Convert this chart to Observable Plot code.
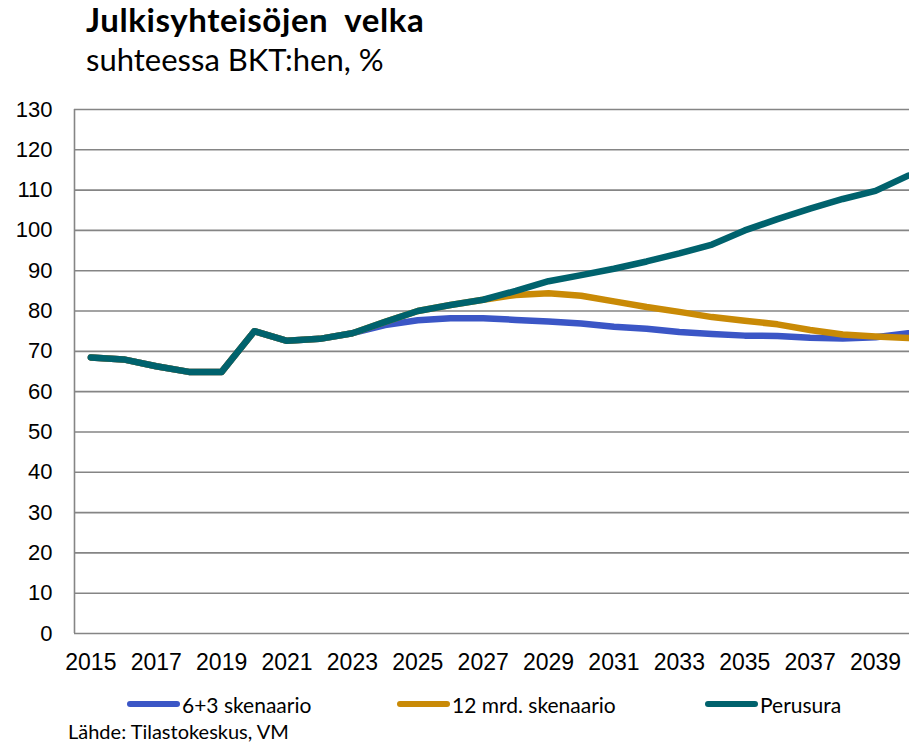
<!DOCTYPE html>
<html>
<head>
<meta charset="utf-8">
<script src="https://cdn.jsdelivr.net/npm/d3@7"></script>
<script src="https://cdn.jsdelivr.net/npm/@observablehq/plot@0.6"></script>
<style>
  html, body { margin: 0; padding: 0; background: #fff; }
  #wrap { position: relative; width: 909px; height: 742px; overflow: hidden; background: #fff; }
  .title { position: absolute; left: 86px; top: 1px; line-height: 36px; font-family: Lato, sans-serif; font-weight: 700; font-size: 33px; color: #000; word-spacing: 8px; letter-spacing: 0.6px; white-space: nowrap; }
  .subtitle { position: absolute; left: 86px; top: 41px; line-height: 36px; font-family: Lato, sans-serif; font-weight: 400; font-size: 31px; color: #000; white-space: nowrap; }
  #chart { position: absolute; left: 0; top: 90px; }
  .leg { position: absolute; top: 691px; height: 26px; display: flex; align-items: center; font-family: Lato, sans-serif; font-size: 21px; color: #000; white-space: nowrap; }
  .sw { display: inline-block; width: 53px; height: 6px; border-radius: 3px; margin-right: 2px; }
  .source { position: absolute; left: 68px; top: 719px; font-family: Lato, sans-serif; font-size: 20px; color: #000; white-space: nowrap; }
</style>
</head>
<body>
<div id="wrap">
  <div class="title">Julkisyhteisöjen velka</div>
  <div class="subtitle">suhteessa BKT:hen, %</div>
  <div id="chart"></div>
  <div id="legend"></div>
  <div class="source">Lähde: Tilastokeskus, VM</div>
</div>
<script>
const years = [2015, 2016, 2017, 2018, 2019, 2020, 2021, 2022, 2023, 2024, 2025, 2026, 2027, 2028, 2029, 2030, 2031, 2032, 2033, 2034, 2035, 2036, 2037, 2038, 2039, 2040];
const skenaario63 = [68.5, 68.0, 66.3, 64.9, 64.9, 75.0, 72.6, 73.1, 74.5, 76.5, 77.7, 78.2, 78.2, 77.8, 77.4, 76.9, 76.1, 75.6, 74.8, 74.3, 73.9, 73.8, 73.4, 73.2, 73.5, 74.5];
const skenaario12 = [68.5, 68.0, 66.3, 64.9, 64.9, 75.0, 72.6, 73.1, 74.5, 77.3, 80.0, 81.5, 82.8, 84.0, 84.4, 83.8, 82.4, 81.0, 79.8, 78.5, 77.6, 76.7, 75.3, 74.2, 73.7, 73.3];
const perusura = [68.5, 68.0, 66.3, 64.9, 64.9, 75.0, 72.6, 73.1, 74.5, 77.3, 80.0, 81.5, 82.8, 85.0, 87.4, 88.9, 90.5, 92.3, 94.3, 96.5, 100.0, 102.8, 105.4, 107.8, 109.8, 113.6];
const seriesNames = ["6+3 skenaario", "12 mrd. skenaario", "Perusura"];
const seriesColors = ["#3B56C6", "#C98A06", "#00626D"];
const yTicks = [0, 10, 20, 30, 40, 50, 60, 70, 80, 90, 100, 110, 120, 130];
const xTicks = [2015, 2017, 2019, 2021, 2023, 2025, 2027, 2029, 2031, 2033, 2035, 2037, 2039];

const seriesValues = [skenaario63, skenaario12, perusura];
const data = [];
seriesNames.forEach((name, i) => {
  years.forEach((yr, j) => data.push({ series: name, year: yr, value: seriesValues[i][j] }));
});

const chart = Plot.plot({
  width: 909,
  height: 600,
  marginLeft: 74,
  marginRight: 0,
  marginTop: 19,
  marginBottom: 57,
  style: { fontFamily: "'Liberation Sans', Arial, sans-serif", color: "#000", background: "transparent" },
  x: { domain: [2014.5, 2040.04] },
  y: { domain: [0, 130] },
  color: { domain: seriesNames, range: seriesColors },
  marks: [
    Plot.ruleY(yTicks, { stroke: "#858585", strokeWidth: 1.6 }),
    Plot.ruleX([2014.5], { stroke: "#858585", strokeWidth: 1.6 }),
    Plot.axisY({ ticks: yTicks, tickSize: 0, tickPadding: 22, fontSize: 22, label: null }),
    Plot.axisX({ ticks: xTicks, tickSize: 0, tickPadding: 20, fontSize: 23, tickFormat: d => String(d), label: null }),
    Plot.line(data, { x: "year", y: "value", z: "series", stroke: "series", strokeWidth: 6.5, strokeLinejoin: "round", strokeLinecap: "round" })
  ]
});
document.getElementById("chart").appendChild(chart);

const legendLefts = [127, 397, 705];
const legend = document.getElementById("legend");
seriesNames.forEach((name, i) => {
  const item = document.createElement("div");
  item.className = "leg";
  item.style.left = legendLefts[i] + "px";
  const sw = document.createElement("span");
  sw.className = "sw";
  sw.style.background = seriesColors[i];
  const t = document.createElement("span");
  t.textContent = name;
  item.appendChild(sw);
  item.appendChild(t);
  legend.appendChild(item);
});
</script>
</body>
</html>
